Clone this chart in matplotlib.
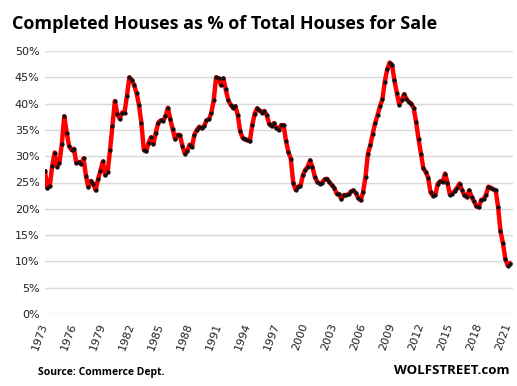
import numpy as np
import matplotlib
matplotlib.use("Agg")
import matplotlib.pyplot as plt
from matplotlib.ticker import FuncFormatter

# quarterly share of completed houses in all new houses for sale (%), 1973 Q1 onward
pct_1973_1985 = [
    27.1, 23.9, 24.4, 28.2,   # 1973
    30.7, 28.0, 28.8, 32.4,   # 1974
    37.6, 34.5, 31.9, 31.2,   # 1975
    31.4, 28.7, 28.9, 28.5,   # 1976
    29.6, 26.2, 24.1, 25.3,   # 1977
    24.8, 23.5, 25.6, 27.2,   # 1978
    29.0, 26.4, 27.0, 31.2,   # 1979
    35.8, 40.5, 38.0, 37.1,   # 1980
    38.3, 38.3, 41.5, 45.0,   # 1981
    44.5, 43.5, 42.0, 39.7,   # 1982
    36.3, 31.2, 30.9, 32.6,   # 1983
    33.6, 32.3, 34.5, 36.4,   # 1984
    36.8, 36.7, 37.6, 39.2,   # 1985
]
pct_1986_1998 = [
    37.0, 35.1, 33.2, 34.1,   # 1986
    34.0, 32.0, 30.5, 30.9,   # 1987
    32.2, 31.8, 34.1, 35.0,   # 1988
    35.6, 35.3, 35.7, 36.8,   # 1989
    37.0, 38.2, 40.6, 45.0,   # 1990
    44.8, 43.5, 44.8, 42.7,   # 1991
    40.7, 39.8, 39.2, 39.5,   # 1992
    37.8, 34.7, 33.5, 33.2,   # 1993
    33.1, 32.8, 35.9, 38.1,   # 1994
    39.1, 38.7, 38.3, 38.6,   # 1995
    37.8, 36.2, 35.7, 36.3,   # 1996
    35.4, 35.0, 35.9, 35.9,   # 1997
    32.9, 30.8, 29.5, 25.0,   # 1998
]
pct_1999_2011 = [
    23.6, 24.2, 24.3, 26.4,   # 1999
    27.4, 28.0, 29.2, 27.9,   # 2000
    26.0, 25.1, 24.8, 25.0,   # 2001
    25.6, 25.7, 25.1, 24.5,   # 2002
    24.0, 22.9, 22.8, 21.8,   # 2003
    22.6, 22.6, 22.8, 23.3,   # 2004
    23.5, 23.0, 22.0, 21.6,   # 2005
    23.2, 26.1, 30.5, 32.1,   # 2006
    34.3, 36.3, 37.8, 39.5,   # 2007
    40.8, 44.2, 46.5, 47.8,   # 2008
    47.4, 44.4, 42.0, 39.8,   # 2009
    40.7, 41.8, 40.9, 40.3,   # 2010
    40.0, 39.1, 36.5, 33.3,   # 2011
]
pct_2012_2021 = [
    30.5, 27.7, 27.0, 25.9,   # 2012
    23.1, 22.5, 22.7, 24.8,   # 2013
    25.2, 25.1, 26.7, 25.0,   # 2014
    22.7, 22.9, 23.4, 24.0,   # 2015
    24.8, 23.6, 22.6, 22.2,   # 2016
    23.5, 22.3, 21.4, 20.5,   # 2017
    20.3, 21.7, 21.8, 22.7,   # 2018
    24.2, 24.0, 23.7, 23.5,   # 2019
    20.4, 15.8, 13.5, 10.5,   # 2020
    9.2, 9.6,                 # 2021
]
tick_years = list(range(1973, 2022, 3))

pct = pct_1973_1985 + pct_1986_1998 + pct_1999_2011 + pct_2012_2021
dates = 1973 + np.arange(len(pct)) / 4.0

fig = plt.figure(figsize=(5.17, 3.86), dpi=100)
ax = fig.add_axes([45 / 517, 1 - 314 / 386, 468 / 517, 263 / 386])

ax.plot(dates, pct, color="#ff0000", linewidth=3.2, zorder=2,
        marker="o", markersize=2.7, markerfacecolor="#111111",
        markeredgecolor="#111111", markeredgewidth=0.3)

ax.set_ylim(0, 50)
ax.set_xlim(1973, 2021.55)
ax.set_yticks(np.arange(0, 51, 5))
ax.yaxis.set_major_formatter(FuncFormatter(lambda v, p: "{:.0f}%".format(v)))
ax.set_xticks(tick_years)
ax.set_xticklabels([str(y) for y in tick_years], rotation=70,
                   rotation_mode="anchor", ha="right", va="center")
ax.grid(axis="y", color="#d9d9d9", linewidth=1.0, zorder=0)
ax.set_axisbelow(True)
for side in ["top", "right", "left", "bottom"]:
    ax.spines[side].set_visible(False)
ax.tick_params(axis="both", length=0, labelsize=8, colors="#222222")
ax.tick_params(axis="y", pad=4)
ax.tick_params(axis="x", pad=7)

fig.text(12 / 517, 1 - 24 / 386, "Completed Houses as % of Total Houses for Sale",
         fontsize=13, fontweight="bold", family="Open Sans", va="center", ha="left")
fig.text(38 / 517, 1 - 372 / 386, "Source: Commerce Dept.",
         fontsize=7.5, fontweight="bold", family="Open Sans", va="center", ha="left")
fig.text(510 / 517, 1 - 371 / 386, "WOLFSTREET.com",
         fontsize=9.5, fontweight="bold", family="Open Sans", va="center", ha="right")

fig.savefig("out.png", dpi=100)
